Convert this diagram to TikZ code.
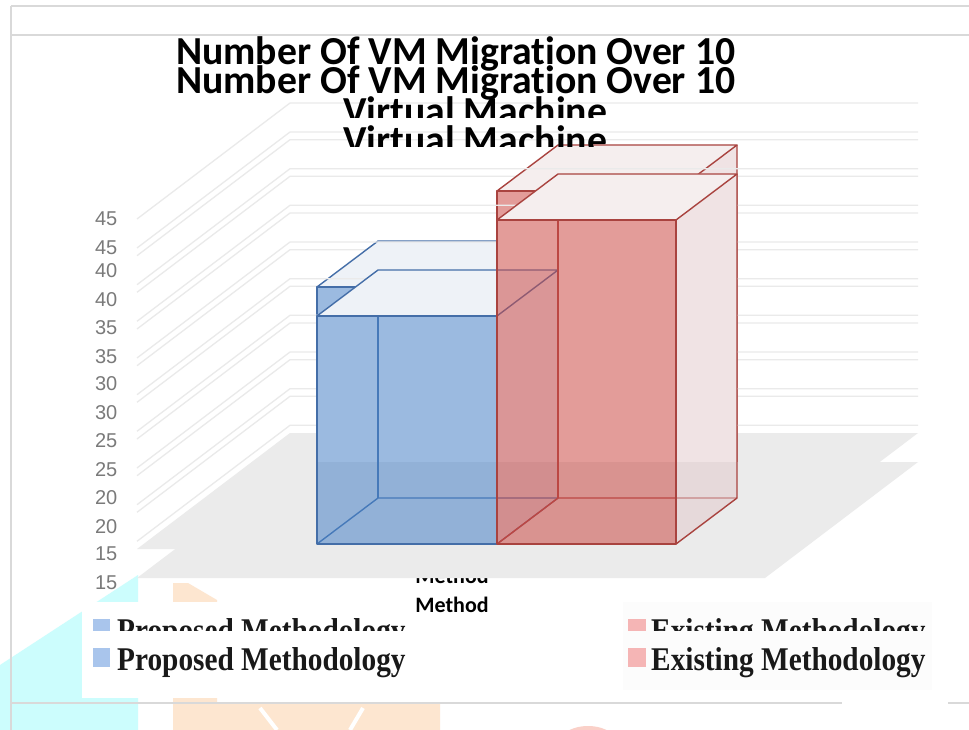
\documentclass[tikz,border=0pt]{standalone}
\usepackage{graphicx}
\usepackage{fontspec}
\setmainfont{Liberation Serif}
\newfontfamily\titlefont[Ligatures=NoCommon]{Carlito}
\newfontfamily\axisfont{Liberation Sans}

\definecolor{framegray}{HTML}{D9D9D9}
\definecolor{gridgray}{HTML}{EAEAEA}
\definecolor{floorgray}{HTML}{EBEBEB}
\definecolor{labelgray}{HTML}{7A7A7A}
\definecolor{blueface}{RGB}{73,131,200}
\definecolor{blueedge}{RGB}{68,110,168}
\definecolor{bluetop}{HTML}{EEF2F7}
\definecolor{redface}{RGB}{204,75,71}
\definecolor{rededge}{RGB}{169,67,63}
\definecolor{redtop}{HTML}{F5EEEE}
\definecolor{redside}{RGB}{226,200,202}
\definecolor{wmcyan}{HTML}{CCFDFD}
\definecolor{wmpeach}{HTML}{FDE6D0}
\definecolor{wmsalmon}{HTML}{FAD0C8}
\definecolor{keyblue}{HTML}{A9C5EC}
\definecolor{keyred}{HTML}{F5B5B5}
\definecolor{keybox}{HTML}{FCFCFC}

\tikzset{
  frameline/.style={line width=1.2pt, color=framegray},
  gridline/.style={line width=1.3pt, color=gridgray},
  boxedge/.style={line width=1.4pt, line join=round},
  ticklabel/.style={anchor=east, inner sep=0pt, text=labelgray, font=\axisfont\fontsize{20}{20}\selectfont},
  titletext/.style={anchor=base west, inner sep=0pt, font=\titlefont\bfseries\fontsize{39.7}{40}\selectfont},
  methodtext/.style={anchor=base, inner sep=0pt, font=\titlefont\bfseries\fontsize{22}{22}\selectfont},
  keytext/.style={anchor=base west, inner sep=0pt, text=black!90, font=\bfseries\fontsize{29.3}{30}\selectfont},
}

\def\bardx{61}
\def\bardy{46}
% white cut-out of a bar, so the copy beneath does not show through
\newcommand\barmask[4]{\fill[white] (#1,#4) -- (#1,#3) -- (#1+\bardx,#3-\bardy) -- (#2+\bardx,#3-\bardy) -- (#2+\bardx,#4-\bardy) -- (#2,#4) -- cycle;}
% face, edge, top, side options, left, right, top y, bottom y
\newcommand\barbox[8]{%
  \draw[boxedge, #2] (#5,#8) -- (#5+\bardx,#8-\bardy) -- (#6+\bardx,#8-\bardy);
  \draw[boxedge, #2] (#5+\bardx,#8-\bardy) -- (#5+\bardx,#7-\bardy);
  \fill[#4] (#6,#8) -- (#6+\bardx,#8-\bardy) -- (#6+\bardx,#7-\bardy) -- (#6,#7) -- cycle;
  \fill[#1, fill opacity=0.55] (#5,#7) rectangle (#6,#8);
  \filldraw[boxedge, draw=#2, fill=#3] (#5,#7) -- (#5+\bardx,#7-\bardy) -- (#6+\bardx,#7-\bardy) -- (#6,#7) -- cycle;
  \draw[boxedge, #2] (#5,#7) rectangle (#6,#8);
  \draw[boxedge, #2] (#6,#8) -- (#6+\bardx,#8-\bardy) -- (#6+\bardx,#7-\bardy);
}
% one whole copy of the chart, shifted down by #2
\newcommand\chartcopy[2]{%
  \begin{scope}[shift={(0,#2)}]
    \draw[frameline] (11,35) -- (969,35);
    \foreach \gy in {132,168.7,205.3,242,278.7,315.3,352,388.7,425.3}
      \draw[gridline] (137,\gy+116) -- (290,\gy) -- (918,\gy);
    \barmask{317}{497}{316}{544}
    \barmask{497}{676}{220}{544}
    \fill[floorgray] (137,578) -- (290,462) -- (918,462) -- (765,578) -- cycle;
    \barbox{blueface}{blueedge}{bluetop}{blueface, fill opacity=0.1}{317}{497}{316}{544}
    \barbox{redface}{rededge}{redtop}{redside, fill opacity=0.5}{497}{676}{220}{544}
    \foreach \val/\ty in {45/248,40/300,35/357,30/413,25/470,20/527,15/583}
      \node[ticklabel] (tick-#1-\val) at (117.5,\ty) {\val};
    \node[titletext] (title-#1-a) at (176,94) {Number Of VM Migration Over 10};
    \begin{scope}
      \clip (0,0) rectangle (969,147);
      \node[titletext] (title-#1-b) at (343,154) {Virtual Machine};
    \end{scope}
    \node[methodtext] (method-#1) at (452,612) {Method};
    \fill[white] (82,631) rectangle (415,698);
    \fill[keybox] (623,631) rectangle (932,690);
    \fill[keyblue] (93,648) rectangle (110,667);
    \node[keytext] (key-#1-proposed) at (117,670) {\scalebox{1}[1.13]{Proposed Methodology}};
    \fill[keyred] (628,648) rectangle (646,667);
    \node[keytext] (key-#1-existing) at (651,670) {\scalebox{1}[1.13]{Existing Methodology}};
  \end{scope}
}

\begin{document}
\begin{tikzpicture}[x=1pt, y=-1pt]
  %%%%% START %%%%%

  \useasboundingbox (0,0) rectangle (969,730);
  \fill[white] (0,0) rectangle (969,730);

  % bits of the page watermark
  \fill[wmcyan] (0,665) -- (138,575) -- (138,730) -- (0,730) -- cycle;
  \fill[wmpeach] (173,583) -- (188,583) -- (217,600) -- (217,703) -- (440,703) -- (440,730) -- (173,730) -- cycle;
  \draw[white, line width=4pt] (260,708) -- (277,730);
  \draw[white, line width=4pt] (363,708) -- (350,730);
  \fill[wmsalmon] (588,748) ellipse [x radius=32, y radius=22];

  \chartcopy{A}{-29}
  \chartcopy{B}{0}

  \draw[frameline] (11,6) -- (11,730);
  \draw[frameline] (11,703) -- (842,703);
  \draw[frameline] (948,703) -- (969,703);

  %%%%% END %%%%%
\end{tikzpicture}
\end{document}
